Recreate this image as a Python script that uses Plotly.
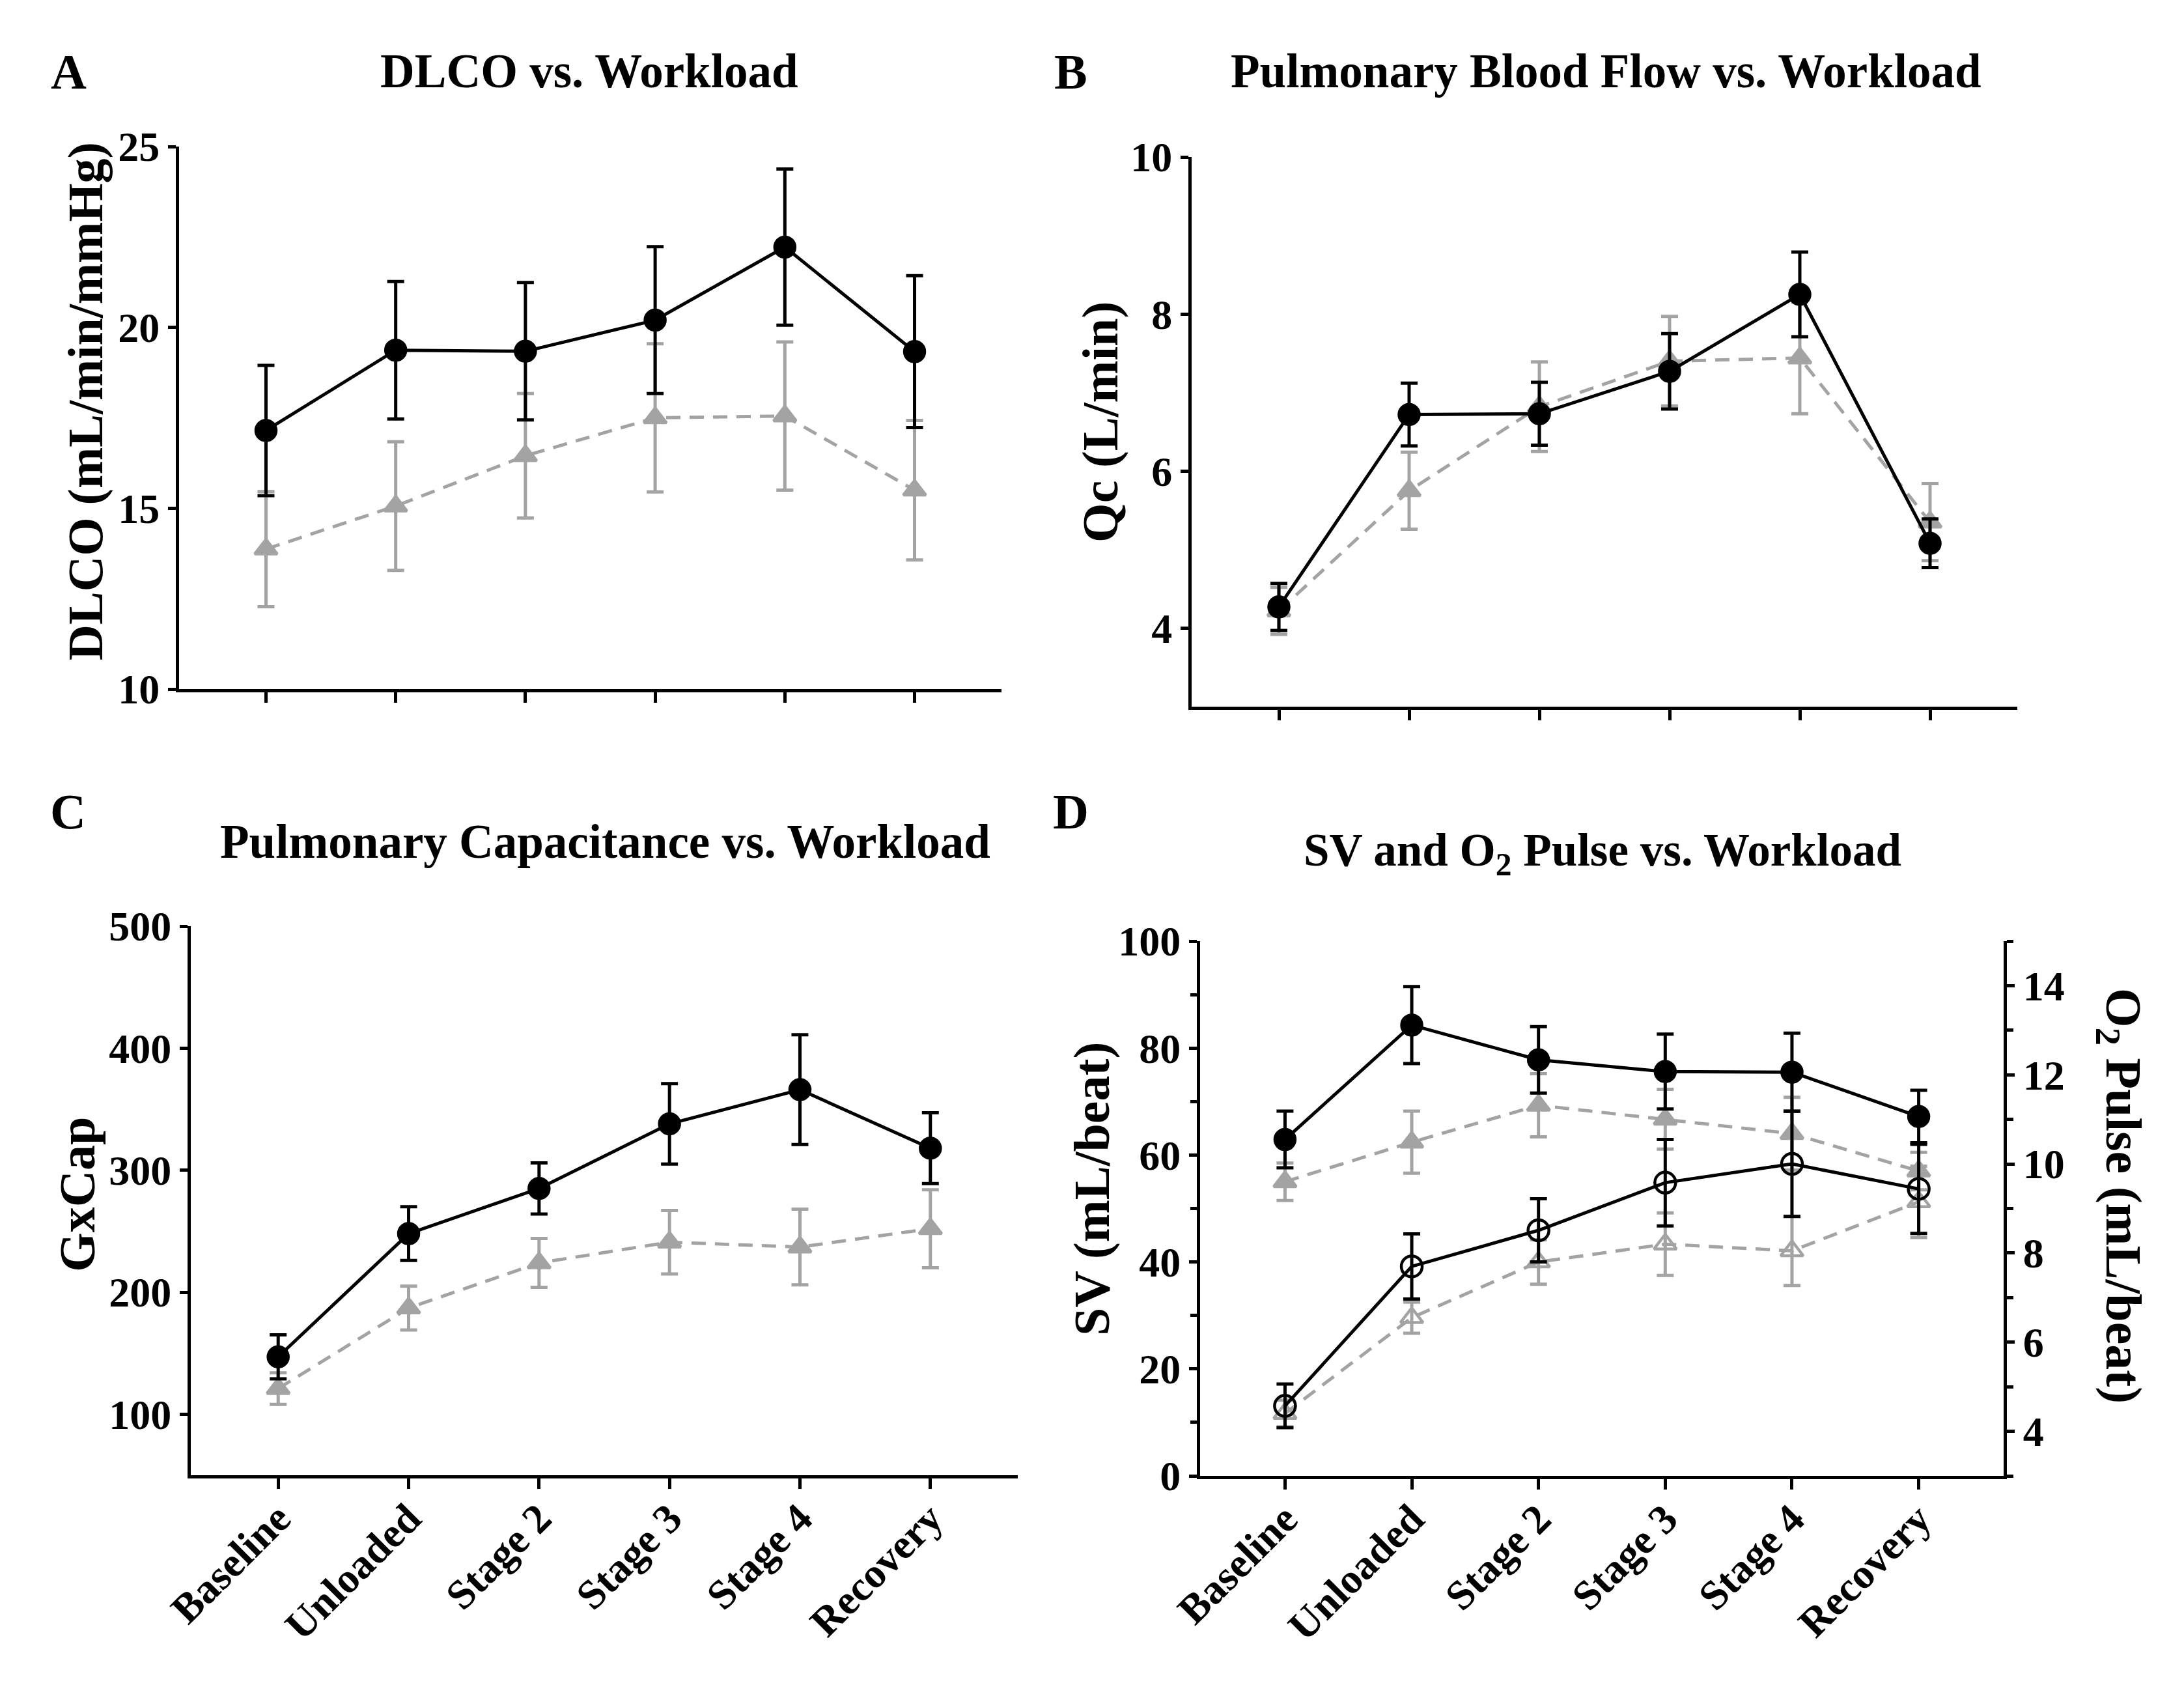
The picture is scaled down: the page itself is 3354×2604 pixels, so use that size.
import plotly.graph_objects as go

W, H = 3354, 2604

stages = ['Baseline', 'Unloaded', 'Stage 2', 'Stage 3', 'Stage 4', 'Recovery']
xpos = list(range(len(stages)))

# A - DLCO (mL/min/mmHg)
dlco_black = [17.15, 19.37, 19.34, 20.2, 22.22, 19.33]
dlco_black_err = [1.8, 1.9, 1.9, 2.03, 2.16, 2.1]
dlco_gray = [13.87, 15.06, 16.45, 17.5, 17.55, 15.5]
dlco_gray_err = [1.59, 1.78, 1.72, 2.05, 2.05, 1.93]

# B - Qc (L/min)
qc_black = [4.27, 6.72, 6.73, 7.27, 8.25, 5.08]
qc_black_err = [0.3, 0.4, 0.4, 0.48, 0.54, 0.31]
qc_gray = [4.22, 5.75, 6.82, 7.4, 7.44, 5.35]
qc_gray_err = [0.3, 0.49, 0.57, 0.57, 0.71, 0.49]

# C - GxCap
gx_black = [147, 248, 285, 338, 366, 318]
gx_black_err = [18, 22, 21, 33, 45, 29]
gx_gray = [121, 187, 224, 241, 237, 252]
gx_gray_err = [13, 18, 20, 26, 31, 32]

# D - SV (mL/beat, left) and O2 pulse (mL/beat, right)
sv_black = [62.9, 84.3, 77.8, 75.6, 75.5, 67.2]
sv_black_err = [5.3, 7.2, 6.2, 7.0, 7.3, 4.9]
sv_gray = [55.0, 62.4, 69.3, 66.7, 64.0, 57.0]
sv_gray_err = [3.5, 5.8, 5.9, 5.6, 6.8, 3.5]
o2_black = [4.57, 7.7, 8.51, 9.58, 10.0, 9.44]
o2_black_err = [0.49, 0.73, 0.71, 0.97, 1.18, 1.0]
o2_gray = [4.4, 6.55, 7.8, 8.2, 8.05, 9.15]
o2_gray_err = [0.3, 0.35, 0.5, 0.7, 0.78, 0.8]

BLACK = '#000000'
GRAY = '#a3a3a3'
FONT = 'Liberation Serif, Times New Roman, serif'


def px(x):
    return x / W


def py(y):
    return 1 - y / H


def series(y, err, xa, ya, gray=False, open_marker=False):
    color = GRAY if gray else BLACK
    if gray:
        symbol = 'triangle-up-open' if open_marker else 'triangle-up'
        size = 30
    else:
        symbol = 'circle-open' if open_marker else 'circle'
        size = 32 if open_marker else 31
    return go.Scatter(
        x=xpos, y=y, xaxis=xa, yaxis=ya, mode='lines+markers',
        line=dict(color=color, width=5, dash='22px,14px' if gray else 'solid'),
        marker=dict(symbol=symbol, size=size, color=color,
                    line=dict(color=color, width=4.5)),
        error_y=dict(type='data', array=err, color=color, thickness=5, width=13),
        showlegend=False, hoverinfo='skip',
    )


fig = go.Figure()
# gray first so black sits on top
fig.add_trace(series(dlco_gray, dlco_gray_err, 'x', 'y', gray=True))
fig.add_trace(series(dlco_black, dlco_black_err, 'x', 'y'))
fig.add_trace(series(qc_gray, qc_gray_err, 'x2', 'y2', gray=True))
fig.add_trace(series(qc_black, qc_black_err, 'x2', 'y2'))
fig.add_trace(series(gx_gray, gx_gray_err, 'x3', 'y3', gray=True))
fig.add_trace(series(gx_black, gx_black_err, 'x3', 'y3'))
fig.add_trace(series(sv_gray, sv_gray_err, 'x4', 'y4', gray=True))
fig.add_trace(series(o2_gray, o2_gray_err, 'x4', 'y5', gray=True, open_marker=True))
fig.add_trace(series(sv_black, sv_black_err, 'x4', 'y4'))
fig.add_trace(series(o2_black, o2_black_err, 'x4', 'y5', open_marker=True))

tickfont = dict(family=FONT, size=64, color=BLACK, weight='bold')
catfont = dict(family=FONT, size=64, color=BLACK, weight='bold')


def xaxis(x0, x1, anchor, labels):
    return dict(
        domain=[px(x0), px(x1)], anchor=anchor, range=[-0.67, 5.67],
        tickvals=xpos, ticktext=stages, showticklabels=labels, tickangle=-45,
        tickfont=catfont, ticks='outside', ticklen=16, tickwidth=5, tickcolor=BLACK,
        ticklabelstandoff=-18,
        showline=True, linewidth=5, linecolor=BLACK, showgrid=False, zeroline=False,
        automargin=False, fixedrange=True,
    )


def yaxis(y0, y1, anchor, rng, dtick, minor=None, side='left', overlaying=None):
    d = dict(
        domain=[py(y1), py(y0)], anchor=anchor, range=rng, dtick=dtick, side=side,
        tickfont=tickfont, ticks='outside', ticklen=12, tickwidth=5, tickcolor=BLACK,
        showline=True, linewidth=5, linecolor=BLACK, showgrid=False, zeroline=False,
        automargin=False, fixedrange=True,
    )
    if minor:
        d['minor'] = dict(dtick=minor, ticks='outside', ticklen=10, tickwidth=5,
                          tickcolor=BLACK, showgrid=False)
    if overlaying:
        d['overlaying'] = overlaying
        d.pop('domain')
    return d


fig.update_layout(
    template='none',
    width=W, height=H, autosize=False, margin=dict(l=0, r=0, t=0, b=0, pad=0),
    paper_bgcolor='white', plot_bgcolor='white', showlegend=False,
    xaxis=xaxis(267, 1530, 'y', False),
    yaxis=yaxis(217, 1050, 'x', [10, 25], 5),
    xaxis2=xaxis(1822, 3090, 'y2', False),
    yaxis2=yaxis(233, 1077, 'x2', [3, 10], 2),
    xaxis3=xaxis(285, 1555, 'y3', True),
    yaxis3=yaxis(1414, 2257, 'x3', [50, 500], 100),
    xaxis4=xaxis(1835, 3069, 'y4', True),
    yaxis4=yaxis(1437, 2258, 'x4', [0, 100], 20, minor=10),
    yaxis5=yaxis(1437, 2258, 'x4', [3, 15], 2, minor=2, side='right', overlaying='y4'),
)
fig.layout.yaxis5.tick0 = 4
fig.layout.yaxis5.minor.tick0 = 3


def text(s, x, y, size, angle=0):
    fig.add_annotation(
        text=s, x=px(x), y=py(y), xref='paper', yref='paper', showarrow=False,
        xanchor='center', yanchor='middle', textangle=angle,
        font=dict(family=FONT, size=size, color=BLACK, weight='bold'),
    )


# panel letters and titles
text('A', 97, 102, 76)
text('DLCO vs. Workload', 897, 102, 73)
text('B', 1636, 102, 76)
text('Pulmonary Blood Flow vs. Workload', 2458, 102, 73)
text('C', 96, 1238, 76)
text('Pulmonary Capacitance vs. Workload', 921, 1284, 73)
text('D', 1636, 1238, 76)
text('SV and O<sub>2</sub> Pulse vs. Workload', 2453, 1302, 71)

# axis titles
text('DLCO (mL/min/mmHg)', 124, 608, 76, -90)
text('Qc (L/min)', 1682, 640, 78, -90)
text('GxCap', 110, 1826, 78, -90)
text('SV (mL/beat)', 1668, 1818, 78, -90)
text('O<sub>2</sub> Pulse (mL/beat)', 3248, 1828, 78, 90)

fig.write_html('out.html')
